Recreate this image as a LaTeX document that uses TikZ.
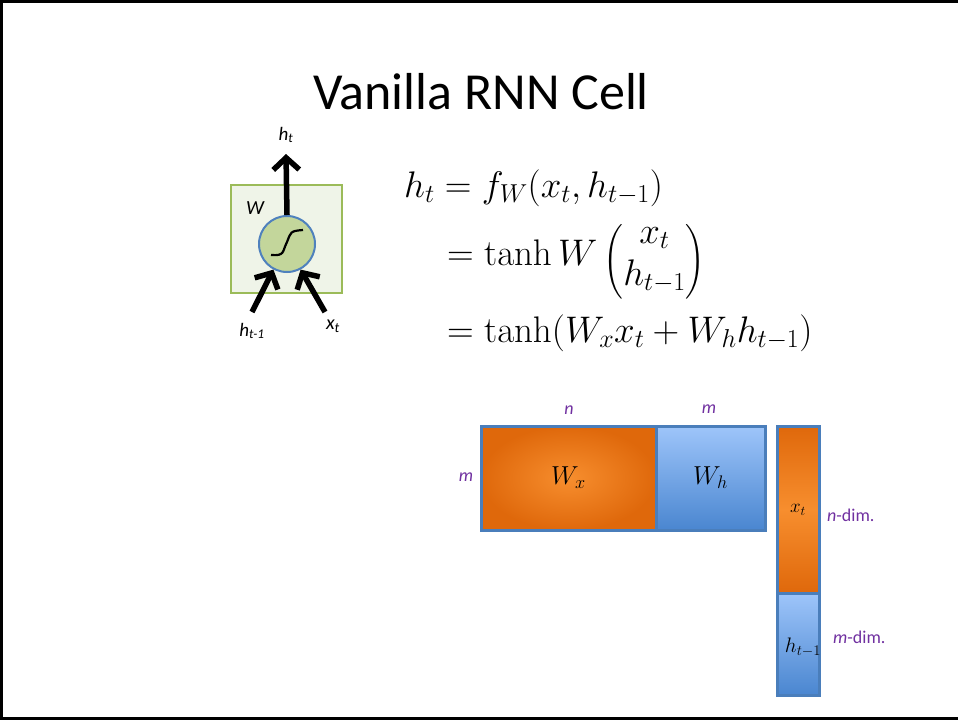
\RequirePackage{fix-cm}
\documentclass[tikz,border=0pt]{standalone}
\usepackage{amsmath}
\usepackage[no-math]{fontspec}
\setmainfont{Carlito}
\usetikzlibrary{arrows.meta,shadows}
\definecolor{pur}{HTML}{7030A0}
\definecolor{bord}{HTML}{4A7EBB}
\definecolor{gfill}{HTML}{EFF4E8}
\definecolor{gline}{HTML}{9BBB59}
\definecolor{cfill}{HTML}{C3D69B}
\definecolor{cline}{HTML}{4F81BD}
\definecolor{orL}{HTML}{F78E2E}
\definecolor{orD}{HTML}{DF680B}
\definecolor{blL}{HTML}{9EC5FA}
\definecolor{blD}{HTML}{4A86D0}
\tikzset{
  lab/.style={font=\fontsize{19}{21}\selectfont\itshape, inner sep=0pt},
  plab/.style={font=\fontsize{18}{20}\selectfont, text=pur, inner sep=0pt},
  mbox/.style={draw=bord, line width=3pt, inner sep=0pt, drop shadow={opacity=0.25, shadow xshift=1pt, shadow yshift=-2pt}},
  bigarrow/.style={line width=5.5pt, -{Straight Barb[length=12pt,width=26pt,line width=5.5pt]}},
  eq/.style={font=\fontsize{37}{44}\selectfont, inner sep=0pt, anchor=base west}
}
\begin{document}
\begin{tikzpicture}[x=1pt,y=-1pt]
\useasboundingbox (0,0) rectangle (958,720);
% slide frame
\draw[line width=3pt] (958,1) -- (1,1) -- (1,718.5) -- (958,718.5);
% title
\node[font=\fontsize{52}{60}\selectfont, inner sep=0pt] (title) at (481,92) {Vanilla RNN Cell};
% cell
\node[draw=gline, fill=gfill, line width=2pt, minimum width=111pt, minimum height=108pt, inner sep=0pt] (cell) at (286.5,239) {};
\node[circle, draw=cline, fill=cfill, line width=2pt, minimum size=56pt, inner sep=0pt] (neuron) at (287,244) {};
\draw[line width=2.2pt] (271,255) .. controls (285,256) and (282,252) .. (287,242) .. controls (291,232) and (290,231) .. (303,230);
\coordinate (inL) at (252,312);
\coordinate (inR) at (325,312);
\coordinate (outT) at (286,154);
\draw[bigarrow] (neuron.north) -- (outT);
\draw[bigarrow] (inL) -- (neuron.-118);
\draw[bigarrow] (inR) -- (neuron.-62);
\node[lab] (lht) at (286,135) {h\textsubscript{t}};
\node[lab, font=\fontsize{20}{22}\selectfont\itshape] (lW) at (255,208) {W};
\node[lab] (lhtm) at (252,331) {h\textsubscript{t-1}};
\node[lab, font=\fontsize{20}{22}\selectfont\itshape] (lxt) at (333,326) {x\textsubscript{t}};
% equations
\node[eq] (e1) at (404,197) {$h_t = f_W(x_t, h_{t-1})$};
\node[eq] (e2) at (447,265) {$= \tanh W \, \raisebox{-6pt}{$\Bigl($}{\renewcommand{\arraystretch}{0.95}\begin{matrix} x_t \\ h_{t-1}\end{matrix}}\raisebox{-6pt}{$\Bigr)$}$};
\node[eq] (e3) at (447,342) {$= \tanh(W_x x_t + W_h h_{t-1})$};
% matrices
\node[mbox, inner color=orL, outer color=orD, minimum width=175pt, minimum height=104pt] (wx) at (568.5,478) {\fontsize{26}{30}\selectfont$W_x$};
\node[mbox, top color=blL, bottom color=blD, minimum width=109pt, minimum height=104pt] (wh) at (710.5,478) {\fontsize{26}{30}\selectfont$W_h$};
\node[mbox, top color=orD, bottom color=orD, middle color=orL, minimum width=42pt, minimum height=167pt] (xt) at (798,509.5) {\fontsize{19}{22}\selectfont$x_t$};
\node[mbox, top color=blL, bottom color=blD, minimum width=42pt, minimum height=102pt] (ht) at (798,644) {};
\node[inner sep=0pt] (htlab) at (803,647) {\fontsize{21}{24}\selectfont$h_{t-1}$};
\node[plab] (ln) at (569,410) {\itshape n};
\node[plab] (lm1) at (709,409) {\itshape m};
\node[plab] (lm2) at (466,477) {\itshape m};
\node[plab, anchor=west] (lnd) at (827,515) {\textit{n}-dim.};
\node[plab, anchor=west] (lmd) at (833,637) {\textit{m}-dim.};
\end{tikzpicture}
\end{document}
